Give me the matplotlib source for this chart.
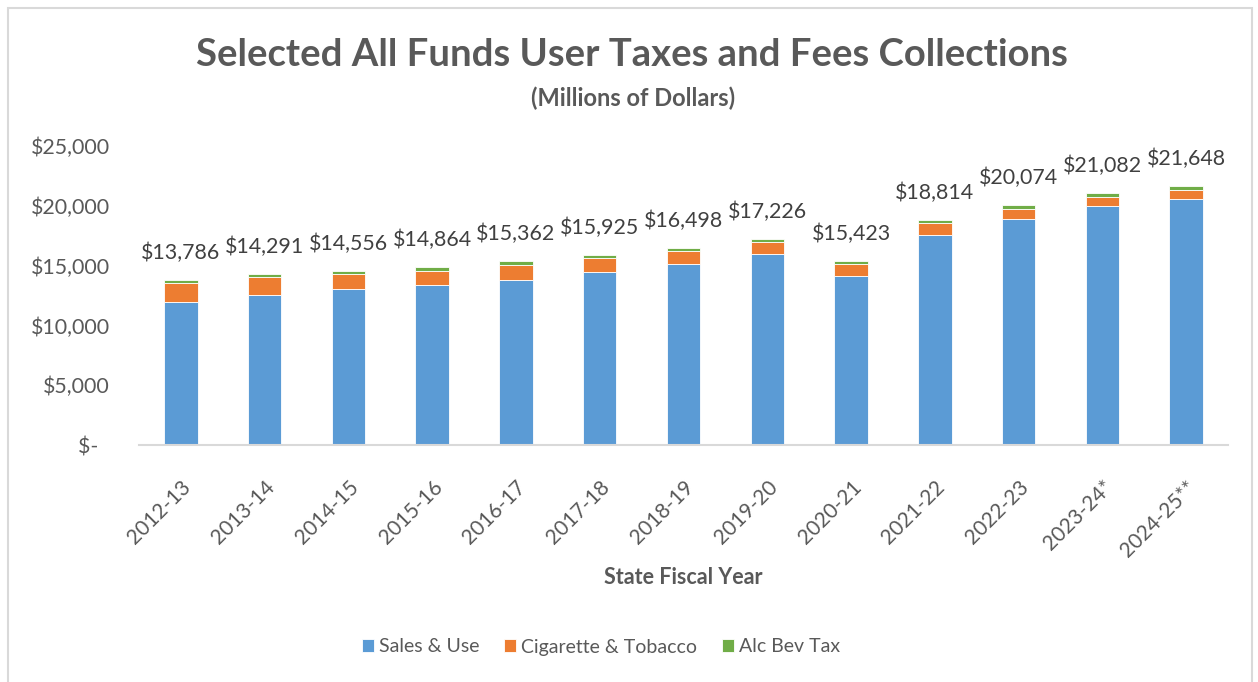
import matplotlib
matplotlib.use("Agg")
import matplotlib.pyplot as plt
from matplotlib.patches import Rectangle
from matplotlib.transforms import ScaledTranslation
import numpy as np

plt.rcParams['font.family'] = ['Lato', 'DejaVu Sans']

years = ["2012-13", "2013-14", "2014-15", "2015-16", "2016-17", "2017-18", "2018-19",
         "2019-20", "2020-21", "2021-22", "2022-23", "2023-24*", "2024-25**"]
sales_use = [11980, 12560, 13026, 13360, 13835, 14480, 15105, 15947, 14110, 17585, 18904, 19962, 20561]
cig_tobacco = [1540, 1455, 1254, 1229, 1252, 1170, 1118, 1003, 1030, 953, 836, 811, 786]
alc_bev = [266, 276, 276, 275, 275, 275, 275, 276, 283, 276, 334, 309, 301]
totals = [13786, 14291, 14556, 14864, 15362, 15925, 16498, 17226, 15423, 18814, 20074, 21082, 21648]
y_ticks = [0, 5000, 10000, 15000, 20000, 25000]
y_tick_labels = ["$-  ", "$5,000", "$10,000", "$15,000", "$20,000", "$25,000"]

c_blue = "#5B9BD5"
c_orange = "#ED7D31"
c_green = "#70AD47"
txt = "#595959"
dark = "#404040"

fig = plt.figure(figsize=(12.58, 6.82), dpi=100)
fig.patch.set_facecolor("white")
# chart border
fig.add_artist(Rectangle((8 / 1258, -0.05), (1252 - 8) / 1258, (682 - 8) / 682 + 0.05,
                         transform=fig.transFigure, fill=False, edgecolor="#D9D9D9", linewidth=1.5))

ax = fig.add_axes([139 / 1258, 237 / 682, (1228 - 139) / 1258, 299 / 682])
x = np.arange(len(years))
w = 0.4
s = np.array(sales_use)
c = np.array(cig_tobacco)
a = np.array(alc_bev)
ax.bar(x, s, w, color=c_blue, edgecolor="white", linewidth=0.6, label="Sales & Use")
ax.bar(x, c, w, bottom=s, color=c_orange, edgecolor="white", linewidth=0.6, label="Cigarette & Tobacco")
ax.bar(x, a, w, bottom=s + c, color=c_green, edgecolor="white", linewidth=0.6, label="Alc Bev Tax")

for xi, t in zip(x, totals):
    ax.annotate(f"${t:,}", (xi, t), xytext=(0, 15), textcoords="offset points",
                ha="center", va="baseline", fontsize=15.4, color=dark)

ax.set_xlim(-0.5, len(years) - 0.5)
ax.set_ylim(0, 25000)
ax.set_yticks(y_ticks)
ax.set_yticklabels(y_tick_labels, fontsize=15.4, color=txt)
ax.set_xticks(x)
ax.set_xticklabels(years, rotation=45, ha="right", rotation_mode="anchor", fontsize=15, color=txt)
shift = ScaledTranslation(-6 / 100, 0, fig.dpi_scale_trans)
for lab in ax.get_xticklabels():
    lab.set_transform(lab.get_transform() + shift)
ax.tick_params(axis="both", length=0)
ax.tick_params(axis="y", pad=21)
ax.tick_params(axis="x", pad=23)
for sp in ["top", "right", "left"]:
    ax.spines[sp].set_visible(False)
ax.spines["bottom"].set_color("#D9D9D9")
ax.spines["bottom"].set_linewidth(1.5)

fig.text(632 / 1258, 1 - 55 / 682, "Selected All Funds User Taxes and Fees Collections",
         ha="center", va="center", fontsize=27.5, fontweight="bold", color=txt)
fig.text(633 / 1258, 1 - 98 / 682, "(Millions of Dollars)", ha="center", va="center",
         fontsize=17, fontweight="bold", color=txt)
fig.text(683 / 1258, 1 - 578 / 682, "State Fiscal Year", ha="center", va="center",
         fontsize=15.5, fontweight="bold", color=txt)

leg = fig.legend(loc="center", bbox_to_anchor=(601 / 1258, 1 - 647 / 682), ncol=3, frameon=False,
                 fontsize=14, handlelength=0.62, handleheight=0.62, handletextpad=0.27,
                 columnspacing=1.25, borderpad=0, borderaxespad=0)
for t in leg.get_texts():
    t.set_color(txt)

fig.savefig("out.png", dpi=100)
